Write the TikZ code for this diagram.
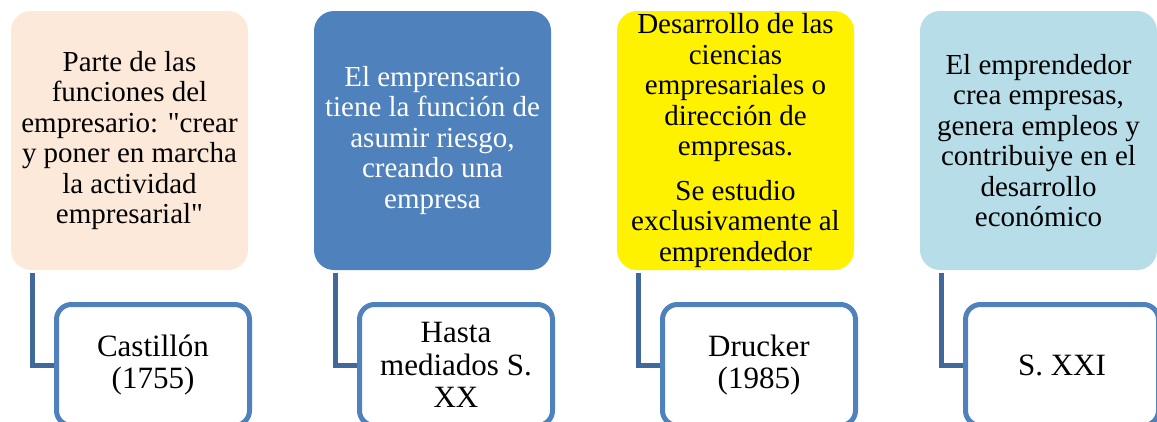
\documentclass[tikz,border=0pt]{standalone}
\usepackage{fontspec}
\setmainfont{Liberation Serif}
\usepackage{xcolor}
\usepackage{tikz}
\usetikzlibrary{positioning}
\definecolor{peach}{HTML}{FDE9D9}
\definecolor{accentblue}{HTML}{4F81BD}
\definecolor{linkblue}{HTML}{41689A}
\definecolor{paleblue}{HTML}{B7DEE8}
\tikzset{topbox/.style ={rounded corners=20pt, inner sep=0pt, minimum width=237pt, minimum height=259pt, align=center, font=\fontsize{29}{30.5}\selectfont}}
\tikzset{datebox/.style ={draw=accentblue, line width=5pt, fill=white, rounded corners=15pt, inner sep=0pt, minimum width=193pt, minimum height=121pt, align=center, font=\fontsize{31}{32.5}\selectfont}}
\tikzset{link/.style ={draw=linkblue, line width=5pt}}

\begin{document}
\begin{tikzpicture}[x=1pt,y=-1pt]
{
\useasboundingbox (0,0) rectangle (1157,421);
%upper boxes
\node[topbox, fill=peach] (t1) at (129.5,140.5) {Parte de las\\funciones del\\empresario: \textquotedbl crear\\y poner en marcha\\la actividad\\empresarial\textquotedbl};
\node[topbox, fill=accentblue, text=white] (t2) at (432.5,140.5) {El emprensario\\tiene la función de\\asumir riesgo,\\creando una\\empresa};
\node[topbox, fill=yellow] (t3) at (735.5,140.5) {Desarrollo de las\\ciencias\\empresariales o\\dirección de\\empresas.\\[14pt]Se estudio\\exclusivamente al\\emprendedor};
\node[topbox, fill=paleblue] (t4) at (1038.5,140.5) {El emprendedor\\crea empresas,\\genera empleos y\\contribuiye en el\\desarrollo\\económico};
%lower boxes
\node[datebox] (b1) at (153,365) {Castillón\\(1755)};
\node[datebox] (b2) at (456,365) {Hasta\\mediados S.\\XX};
\node[datebox] (b3) at (759,365) {Drucker\\(1985)};
\node[datebox] (b4) at (1062,365) {S. XXI};
%links
\draw[link] (t1.south west) ++(21.5,3) |- (b1.west);
\draw[link] (t2.south west) ++(21.5,3) |- (b2.west);
\draw[link] (t3.south west) ++(21.5,3) |- (b3.west);
\draw[link] (t4.south west) ++(21.5,3) |- (b4.west);
}
\end{tikzpicture}
\end{document}
